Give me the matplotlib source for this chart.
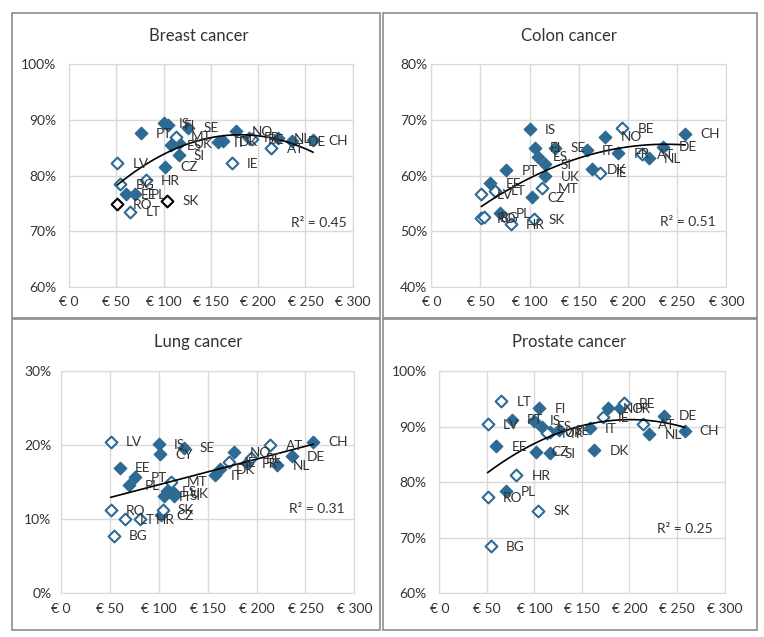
import numpy as np
import matplotlib
matplotlib.use("Agg")
import matplotlib.pyplot as plt
from matplotlib.patches import Rectangle

plt.rcParams["font.family"] = ["Lato", "DejaVu Sans"]

# countries and drug spending per capita (EUR)
countries = ["LV", "RO", "BG", "EE", "LT", "PL", "PT", "HR", "IS", "CY", "CZ", "SK", "FI", "ES",
             "MT", "UK", "SI", "SE", "IT", "DK", "IE", "NO", "FR", "BE", "AT", "NL", "DE", "CH"]
spend = [51, 51, 54, 60, 65, 70, 76, 81, 100, 101, 102, 104, 105, 108,
         113, 116, 116, 126, 158, 163, 172, 177, 190, 194, 214, 221, 236, 258]

# 5-year survival (%) per cancer
nan = np.nan
breast = [82.2, 74.9, 78.4, 76.6, 73.5, 76.6, 87.6, 79.2, 89.4, nan, 81.6, 75.5, 89.0, 85.4,
          87.0, 85.8, 83.6, 88.6, 86.0, 86.2, 82.2, 88.0, 86.8, 86.5, 84.9, 86.7, 86.2, 86.4]
colon = [56.6, 52.3, 52.5, 58.6, 57.3, 53.2, 61.0, 51.3, 68.3, nan, 56.1, 52.2, 65.0, 63.4,
         57.7, 59.9, 62.1, 65.0, 64.5, 61.2, 60.5, 67.0, 64.0, 68.5, 63.9, 63.1, 65.2, 67.5]
lung = [20.5, 11.2, 7.8, 17.0, 10.0, 14.6, 15.7, 10.0, 20.2, 18.8, 10.6, 11.3, 13.1, 13.8,
        15.1, 13.5, 13.2, 19.7, 16.0, 16.8, 17.7, 19.1, 17.6, 18.3, 20.0, 17.3, 18.5, 20.5]
prostate = [90.5, 77.3, 68.5, 86.5, 94.6, 78.4, 91.3, 81.3, 91.1, nan, 85.5, 74.9, 93.4, 90.0,
            88.9, 89.0, 85.2, 89.4, 89.8, 85.8, 91.7, 93.3, 93.4, 94.3, 90.5, 88.7, 92.0, 89.3]

open_countries = ["LV", "RO", "BG", "LT", "HR", "SK", "MT", "IE", "BE", "AT"]
breast_black = ["RO", "SK"]  # excluded from trend

titles = ["Breast cancer", "Colon cancer", "Lung cancer", "Prostate cancer"]
r2_labels = ["R² = 0.45", "R² = 0.51", "R² = 0.31", "R² = 0.25"]
fit_degree = [2, 2, 1, 2]
y_limits = [(60, 100), (40, 80), (0, 30), (60, 100)]

W, H = 764, 637
fig = plt.figure(figsize=(W / 100, H / 100), dpi=100)

# panel frames (pixels: left, top, right, bottom)
for l, t, r, b in [(12, 13, 380, 318), (383, 13, 757, 318), (12, 319, 380, 630), (383, 319, 757, 630)]:
    fig.patches.append(Rectangle((l / W, 1 - b / H), (r - l) / W, (b - t) / H,
                                 transform=fig.transFigure, fill=False, ec="#8c8c8c", lw=1.2))

# plot areas in pixels: left, top, right, bottom
areas = [(69, 64.3, 352.7, 286.7), (431.3, 64.3, 726.3, 286.7),
         (61, 371.3, 354.3, 593.3), (439.3, 371.3, 724.5, 593.3)]
title_pos = [(199, 36), (569, 36), (198, 342), (569, 342)]
ypads = [9, 3, 7, 9]
r2_pos = [(0.98, 0.288), (0.963, 0.292), (0.968, 0.381), (0.959, 0.291)]

blue = "#2d6a94"
x = np.array(spend, dtype=float)

for i, vals in enumerate([breast, colon, lung, prostate]):
    l, t, r, b = areas[i]
    ax = fig.add_axes([l / W, 1 - b / H, (r - l) / W, (b - t) / H])
    y = np.array(vals, dtype=float)
    valid = ~np.isnan(y)

    black = np.array([c in breast_black for c in countries]) if i == 0 else np.zeros(len(x), bool)
    hollow = np.array([c in open_countries for c in countries]) & ~black
    filled = ~hollow & ~black

    ax.scatter(x[filled & valid], y[filled & valid], marker="D", s=40, color=blue, zorder=2)
    ax.scatter(x[hollow & valid], y[hollow & valid], marker="D", s=36, facecolor="white",
               edgecolor=blue, linewidth=1.5, zorder=2)
    ax.scatter(x[black & valid], y[black & valid], marker="D", s=36, facecolor="white",
               edgecolor="black", linewidth=1.5, zorder=2)

    for c, xi, yi in zip(countries, x, y):
        if np.isnan(yi):
            continue
        ax.annotate(c, (xi, yi), xytext=(11, -0.5), textcoords="offset points",
                    va="center", ha="left", fontsize=9.8, color="#333333", zorder=4)

    m = valid & ~black
    coef = np.polyfit(x[m], y[m], fit_degree[i])
    xs = np.linspace(x[m].min(), x[m].max(), 200)
    ax.plot(xs, np.polyval(coef, xs), color="black", lw=1.2, zorder=3)

    ax.text(r2_pos[i][0], r2_pos[i][1], r2_labels[i], transform=ax.transAxes,
            ha="right", va="center", fontsize=10, color="#333333")

    lo, hi = y_limits[i]
    ax.set_xlim(0, 300)
    ax.set_ylim(lo, hi)
    ax.set_xticks(range(0, 301, 50))
    ax.set_xticklabels([f"€ {v}" for v in range(0, 301, 50)])
    yt = list(range(lo, hi + 1, 10))
    ax.set_yticks(yt)
    ax.set_yticklabels([f"{v}%" for v in yt])
    ax.tick_params(length=0, labelsize=10, colors="#333333")
    ax.tick_params(axis="x", pad=7)
    ax.tick_params(axis="y", pad=ypads[i])
    ax.grid(True, color="#d9d9d9", lw=1)
    ax.set_axisbelow(True)
    for s in ax.spines.values():
        s.set_color("#d9d9d9")

    fig.text(title_pos[i][0] / W, 1 - title_pos[i][1] / H, titles[i], ha="center", va="center",
             fontsize=12, color="#333333")

fig.savefig("out.png", dpi=100)
